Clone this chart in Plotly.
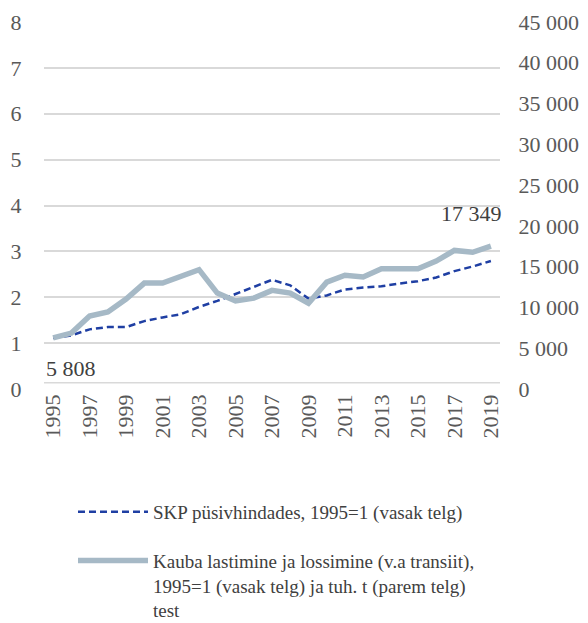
import plotly.graph_objects as go

years = [str(y) for y in range(1995, 2020)]
skp_index = [1.11, 1.17, 1.30, 1.35, 1.35, 1.48, 1.56, 1.63, 1.79, 1.92, 2.07, 2.22, 2.38,
             2.26, 1.97, 2.04, 2.17, 2.21, 2.24, 2.30, 2.35, 2.43, 2.57, 2.67, 2.79]
# cargo loading/unloading, thousand tonnes, as drawn against the right axis
cargo_kt = [6270, 6860, 8940, 9450, 11030, 12990, 12990, 13730, 14630, 11760, 10800, 11140,
            12090, 11760, 10520, 13110, 13950, 13730, 14740, 14740, 14740, 15690, 16990,
            16760, 17520]
cargo_labels = ["5 808", "17 349"]

left_ticks = [0, 1, 2, 3, 4, 5, 6, 7, 8]
right_ticks = [0, 5000, 10000, 15000, 20000, 25000, 30000, 35000, 40000, 45000]
right_ticktext = ["0", "5 000", "10 000", "15 000", "20 000", "25 000", "30 000",
                  "35 000", "40 000", "45 000"]
x_tickvals = years[::2]

name_skp = "SKP püsivhindades, 1995=1 (vasak telg)"
name_cargo = ("Kauba lastimine ja lossimine (v.a transiit),<br>"
              "1995=1 (vasak telg) ja tuh. t (parem telg)<br>test")

FONT = "Liberation Serif"
TICKCOL = "#595959"
TEXTCOL = "#404040"

W, H = 580, 615  # page body adds an 8px offset

fig = go.Figure()
fig.add_trace(go.Scatter(
    x=years, y=skp_index, mode="lines", name=name_skp, legendgroup="a",
    line=dict(color="#1f3fa3", width=2.5, dash="7px,4px"),
))
fig.add_trace(go.Scatter(
    x=years, y=cargo_kt, mode="lines", name=name_cargo, legendgroup="b", yaxis="y2",
    line=dict(color="#a6b9c6", width=5.5),
))

# data labels on the first and last cargo points (x given as category index)
fig.add_annotation(x=0, y=cargo_kt[0], xref="x", yref="y2", text=cargo_labels[0],
                   showarrow=False, xanchor="left", yanchor="middle", xshift=-9, yshift=-31,
                   font=dict(family=FONT, size=22, color=TEXTCOL))
fig.add_annotation(x=len(years) - 1, y=cargo_kt[-1], xref="x", yref="y2",
                   text=cargo_labels[1], showarrow=False, xanchor="right", yanchor="middle",
                   xshift=13, yshift=33, font=dict(family=FONT, size=22, color=TEXTCOL))

# faint extra horizontal rule just above the baseline, as in the original
fig.add_shape(type="line", xref="paper", yref="paper", x0=0, x1=1, y0=0.017, y1=0.017,
              line=dict(color="#d9d9d9", width=1.5), layer="below")

fig.update_layout(
    width=W, height=H,
    margin=dict(l=36, r=88, t=14, b=234, autoexpand=False),
    paper_bgcolor="white", plot_bgcolor="white",
    font=dict(family=FONT, size=22, color=TICKCOL),
    xaxis=dict(
        type="category", tickmode="array", tickvals=x_tickvals, ticktext=x_tickvals,
        tickangle=-90, showgrid=False, zeroline=False, showline=False,
        ticks="",
        tickfont=dict(family=FONT, size=22, color=TICKCOL),
        range=[-0.5, len(years) - 0.5],
    ),
    yaxis=dict(
        range=[0, 8], tickmode="array", tickvals=left_ticks,
        showgrid=True, gridcolor="#d9d9d9", gridwidth=1.5, zeroline=False, showline=False,
        ticks="outside", ticklen=17, tickcolor="rgba(0,0,0,0)",
        tickfont=dict(family=FONT, size=22, color=TICKCOL),
    ),
    yaxis2=dict(
        range=[0, 45000], overlaying="y", side="right", tickmode="array",
        tickvals=right_ticks, ticktext=right_ticktext, showgrid=False, zeroline=False,
        showline=False, ticks="outside", ticklen=13, tickcolor="rgba(0,0,0,0)",
        tickfont=dict(family=FONT, size=22, color=TICKCOL),
    ),
    showlegend=True,
    legend=dict(
        xref="container", yref="container", x=65 / W, y=1 - 485 / H,
        xanchor="left", yanchor="top", orientation="v", valign="top",
        traceorder="grouped", tracegroupgap=21, itemwidth=70,
        font=dict(family=FONT, size=19, color=TEXTCOL), bgcolor="rgba(0,0,0,0)",
    ),
)

fig.write_html("out.html")
